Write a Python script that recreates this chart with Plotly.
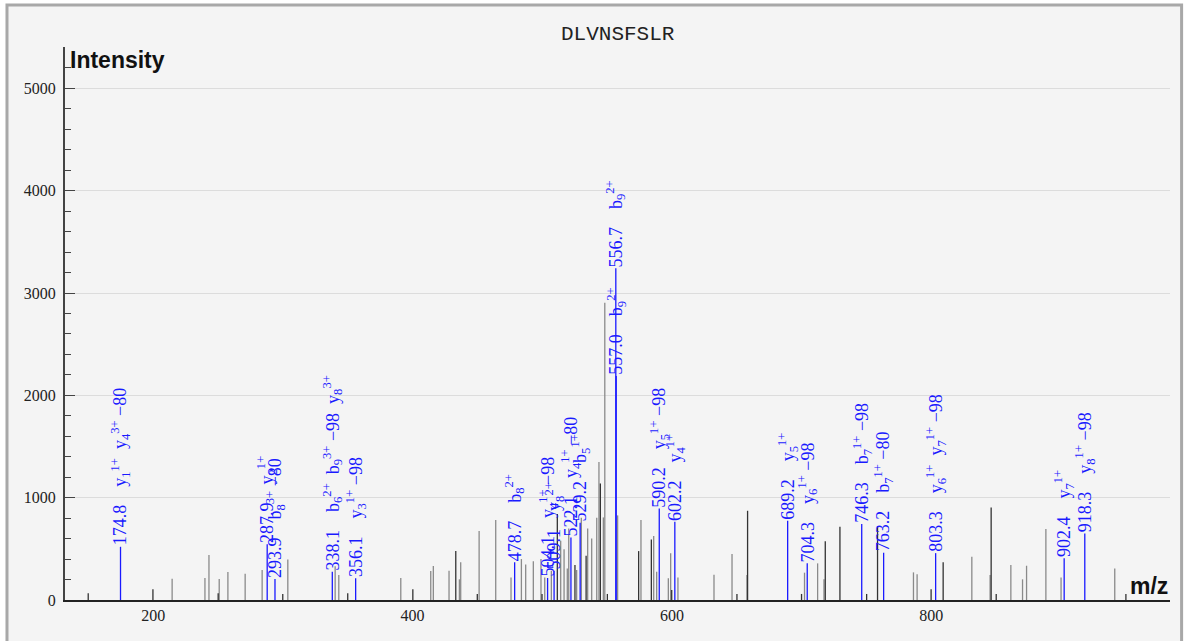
import plotly.graph_objects as go

title_text = "DLVNSFSLR"

# Annotated (matched) peaks
blue_mz = [174.8, 287.9, 293.9, 338.1, 356.1, 478.7, 504.1, 509.1, 522.1, 529.2,
           556.7, 557.0, 590.2, 602.2, 689.2, 704.3, 746.3, 763.2, 803.3, 902.4, 918.3]
blue_int = [520, 545, 205, 277, 212, 370, 215, 285, 610, 755,
            3242, 2190, 895, 765, 775, 360, 742, 462, 458, 407, 651]
blue_ions = [
    ["y<sub>1</sub><sup>1+</sup>", "y<sub>4</sub><sup>3+</sup> −80"],
    ["y<sub>2</sub><sup>1+</sup>"],
    ["b<sub>8</sub><sup>3+</sup> −80"],
    ["b<sub>6</sub><sup>2+</sup>", "b<sub>9</sub><sup>3+</sup> −98", "y<sub>8</sub><sup>3+</sup>"],
    ["y<sub>3</sub><sup>1+</sup> −98"],
    ["b<sub>8</sub><sup>2+</sup>"],
    ["y<sub>4</sub><sup>1+</sup> −98"],
    ["y<sub>8</sub><sup>2+</sup>"],
    ["y<sub>4</sub><sup>1+</sup> −80"],
    ["b<sub>5</sub><sup>1+</sup>"],
    ["b<sub>9</sub><sup>2+</sup>"],
    ["b<sub>9</sub><sup>2+</sup>"],
    ["y<sub>5</sub><sup>1+</sup> −98"],
    ["y<sub>4</sub><sup>1+</sup>"],
    ["y<sub>5</sub><sup>1+</sup>"],
    ["y<sub>6</sub><sup>1+</sup> −98"],
    ["b<sub>7</sub><sup>1+</sup> −98"],
    ["b<sub>7</sub><sup>1+</sup> −80"],
    ["y<sub>6</sub><sup>1+</sup>", "y<sub>7</sub><sup>1+</sup> −98"],
    ["y<sub>7</sub><sup>1+</sup>"],
    ["y<sub>8</sub><sup>1+</sup> −98"],
]

# Unmatched peaks (light gray)
gray_mz = [214.6, 239.9, 243.0, 250.9, 257.6, 270.9, 284.0, 303.8, 340.3, 343.1,
           390.9, 414.0, 416.0, 428.1, 436.1, 437.1, 451.3, 464.1, 475.9, 483.9,
           487.2, 493.1, 499.0, 501.9, 507.0, 514.2, 516.8, 519.3, 520.4, 526.5,
           530.1, 535.0, 538.1, 542.0, 543.7, 547.1, 548.2, 558.1, 576.1, 585.9,
           588.2, 597.2, 599.0, 604.6, 632.4, 646.3, 657.8, 702.2, 712.3, 717.2,
           786.2, 789.0, 831.2, 845.3, 861.3, 870.3, 873.4, 888.3, 900.0, 941.4]
gray_int = [208, 215, 440, 205, 273, 257, 293, 397, 330, 244,
            215, 283, 332, 286, 202, 368, 674, 781, 221, 400,
            348, 378, 400, 221, 286, 579, 495, 309, 700, 293,
            804, 700, 602, 804, 1350, 807, 2905, 827, 781, 625,
            277, 212, 456, 221, 247, 449, 244, 267, 358, 202,
            270, 251, 423, 244, 342, 202, 335, 693, 221, 309]

# Unmatched peaks (dark)
dark_mz = [149.9, 199.8, 250.1, 299.9, 350.0, 400.2, 433.3, 449.9, 499.8, 511.6,
           525.2, 533.8, 544.8, 550.2, 574.3, 584.1, 599.8, 650.1, 658.3, 699.9,
           718.2, 729.5, 750.1, 758.5, 799.8, 809.1, 846.1, 850.0, 950.0]
dark_int = [65, 104, 65, 59, 65, 104, 478, 59, 59, 840,
            342, 433, 1139, 59, 478, 592, 98, 59, 872, 59,
            573, 716, 59, 723, 104, 368, 905, 59, 59]

x_range = [132, 984]
y_range = [0, 5405]
x_ticks = [200, 400, 600, 800]
y_ticks = [0, 1000, 2000, 3000, 4000, 5000]


def sticks(mz, inten):
    xs, ys = [], []
    for m, v in zip(mz, inten):
        xs += [m, m, None]
        ys += [0, v, None]
    return xs, ys


fig = go.Figure()
for mz, inten, col in [(gray_mz, gray_int, "#8a8a8a"),
                       (dark_mz, dark_int, "#333333"),
                       (blue_mz, blue_int, "#1a1aff")]:
    xs, ys = sticks(mz, inten)
    fig.add_trace(go.Scatter(x=xs, y=ys, mode="lines",
                             line=dict(color=col, width=1.3),
                             hoverinfo="skip", showlegend=False))

annotations = []
for m, v, ions in zip(blue_mz, blue_int, blue_ions):
    txt = f"{m:.1f}" + "&nbsp;&nbsp;&nbsp;&nbsp;" + "&nbsp;&nbsp;".join(ions)
    annotations.append(dict(
        x=m, y=v, xref="x", yref="y", text=txt, showarrow=False,
        textangle=-90, xanchor="center", yanchor="bottom",
        font=dict(family="Liberation Serif", size=18, color="#1a1aff"),
        borderpad=0))

annotations += [
    dict(x=0.5, y=1.0217, xref="paper", yref="paper", text=title_text,
         showarrow=False, xanchor="center", yanchor="middle",
         font=dict(family="Liberation Mono", size=21, color="#222")),
    dict(x=0, y=1, xref="paper", yref="paper", text="<b>Intensity</b>",
         showarrow=False, xanchor="left", yanchor="top", xshift=3, yshift=2,
         font=dict(family="Liberation Sans", size=23, color="#111")),
    dict(x=1, y=0, xref="paper", yref="paper", text="<b>m/z</b>",
         showarrow=False, xanchor="right", yanchor="bottom", yshift=-1,
         font=dict(family="Liberation Sans", size=23, color="#111")),
]

fig.update_layout(
    width=1188, height=641,
    margin=dict(l=65, r=18, t=47, b=41),
    paper_bgcolor="white",
    plot_bgcolor="rgba(0,0,0,0)",
    annotations=annotations,
    shapes=[dict(type="rect", xref="paper", yref="paper",
                 x0=-0.0525, x1=1.0105, y0=-0.1, y1=1.0759,
                 line=dict(color="#a8a8a8", width=3),
                 fillcolor="#f4f4f4", layer="below")],
    xaxis=dict(range=x_range, tickvals=x_ticks, showgrid=False, zeroline=False,
               showline=True, linecolor="#222", linewidth=2, ticks="",
               tickfont=dict(family="Liberation Serif", size=16, color="#222")),
    yaxis=dict(range=y_range, tickvals=y_ticks, showgrid=True, gridcolor="#dcdcdc",
               gridwidth=1, zeroline=False, showline=True, linecolor="#444",
               linewidth=2, ticks="inside", ticklen=10, tickcolor="#444",
               minor=dict(dtick=200, ticks="inside", ticklen=6, tickcolor="#444",
                          showgrid=False),
               ticklabelstandoff=4,
               tickfont=dict(family="Liberation Serif", size=16, color="#222")),
)

fig.write_html("out.html", config={"displayModeBar": False},
               post_script="document.body.style.margin='0px';document.body.style.overflow='hidden';")
